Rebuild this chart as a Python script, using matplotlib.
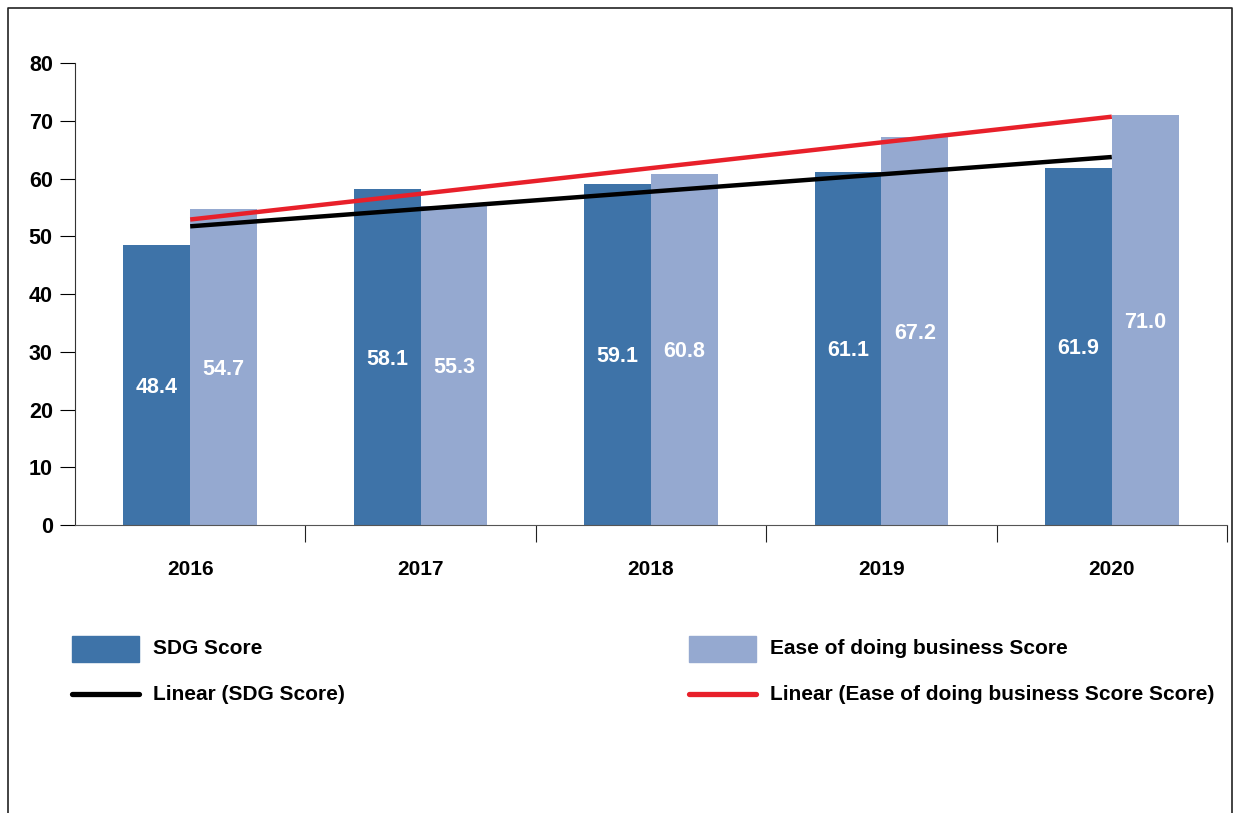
import numpy as np
import matplotlib.pyplot as plt
from matplotlib.patches import Rectangle
from matplotlib.lines import Line2D

plt.rcParams['font.family'] = ['Liberation Sans', 'DejaVu Sans']
plt.rcParams['font.weight'] = 'bold'

years = ['2016', '2017', '2018', '2019', '2020']
sdg_score = [48.4, 58.1, 59.1, 61.1, 61.9]
ease_score = [54.7, 55.3, 60.8, 67.2, 71.0]

dark_blue = '#3e73a8'
light_blue = '#95a9d0'
red = '#e8202a'

W, H = 1240, 813
fig = plt.figure(figsize=(W / 100, H / 100), dpi=100)

def fx(px):
    return px / W

def fy(py):
    return 1 - py / H

# outer frame (left, top, right only)
fig.add_artist(Line2D([fx(8), fx(8), fx(1232), fx(1232)], [0, fy(8), fy(8), 0],
                      transform=fig.transFigure, color='#222222', lw=1.2))

ax = fig.add_axes([fx(75), fy(525), fx(1227 - 75), (525 - 63) / H])

x = np.arange(len(years))
bw = 0.29
ax.bar(x - bw / 2, sdg_score, bw, color=dark_blue, zorder=2)
ax.bar(x + bw / 2, ease_score, bw, color=light_blue, zorder=2)

for i in range(len(years)):
    ax.text(x[i] - bw / 2, sdg_score[i] / 2 - 0.4, f"{sdg_score[i]:.1f}", color='white',
            ha='center', va='center', fontsize=15.5, fontweight='bold', zorder=3)
    ax.text(x[i] + bw / 2, ease_score[i] / 2 - 0.4, f"{ease_score[i]:.1f}", color='white',
            ha='center', va='center', fontsize=15.5, fontweight='bold', zorder=3)

# linear trend lines
for vals, col in [(sdg_score, 'black'), (ease_score, red)]:
    k, b = np.polyfit(x, vals, 1)
    ax.plot(x, k * x + b, color=col, lw=3.2, zorder=4, solid_capstyle='butt')

ax.set_xlim(-0.5, 4.5)
ax.set_ylim(0, 80)
ax.set_yticks(range(0, 81, 10))
ax.tick_params(axis='y', direction='out', length=11, width=0.8, labelsize=15.5, pad=5)

ax.set_xticks(np.arange(0.5, 5, 1))
ax.set_xticklabels([])
ax.tick_params(axis='x', which='major', direction='out', length=12, width=0.8, color='#222222')
ax.set_xticks(x, minor=True)
ax.set_xticklabels(years, minor=True, fontsize=15, fontweight='bold')
ax.tick_params(axis='x', which='minor', length=0, pad=25)

for lab in ax.get_yticklabels():
    lab.set_fontweight('bold')

ax.spines['top'].set_visible(False)
ax.spines['right'].set_visible(False)
ax.spines['left'].set_color('#333333')
ax.spines['bottom'].set_color('#555555')
ax.spines['left'].set_linewidth(0.8)
ax.spines['bottom'].set_linewidth(0.8)

# legend drawn by hand
def legend_patch(x0, col, label):
    fig.add_artist(Rectangle((fx(x0), fy(662)), fx(67), 26 / H, transform=fig.transFigure,
                             color=col))
    fig.text(fx(x0 + 81), fy(648), label, fontsize=15, fontweight='bold', va='center')

def legend_line(x0, col, label):
    fig.add_artist(Line2D([fx(x0), fx(x0 + 67)], [fy(694), fy(694)], transform=fig.transFigure,
                          color=col, lw=3.8, solid_capstyle='round'))
    fig.text(fx(x0 + 81), fy(694), label, fontsize=15, fontweight='bold', va='center')

legend_patch(72, dark_blue, 'SDG Score')
legend_patch(689, light_blue, 'Ease of doing business Score')
legend_line(72, 'black', 'Linear (SDG Score)')
legend_line(689, red, 'Linear (Ease of doing business Score Score)')

fig.savefig('out.png', dpi=100)
